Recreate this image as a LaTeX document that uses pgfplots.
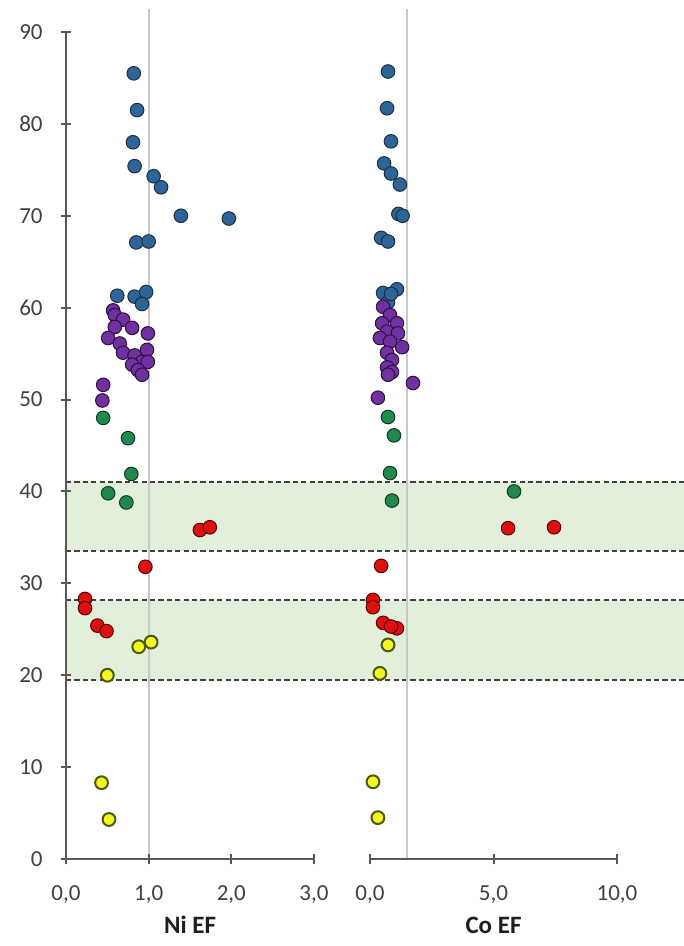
\documentclass[border=0pt]{standalone}
\usepackage{fontspec}
\setmainfont{Carlito}
\usepackage{pgfplots}
\pgfplotsset{compat=1.18}
\definecolor{axisgray}{HTML}{595959}
\definecolor{ticktext}{HTML}{404040}
\definecolor{labeltext}{HTML}{1F1F1F}
\definecolor{bandgreen}{HTML}{E2EFDA}
\definecolor{bandline}{HTML}{404040}
\definecolor{vgray}{HTML}{C8C8C8}
\definecolor{cblue}{HTML}{2E6598}
\definecolor{eblue}{HTML}{1B2F45}
\definecolor{cpurple}{HTML}{7030A0}
\definecolor{epurple}{HTML}{2E1040}
\definecolor{cgreen}{HTML}{1F8A4C}
\definecolor{egreen}{HTML}{0E3B20}
\definecolor{cred}{HTML}{DD1010}
\definecolor{ered}{HTML}{5A0000}
\definecolor{cyellow}{HTML}{F5F520}
\definecolor{eyellow}{HTML}{4A5A10}

\pgfplotstableread{
x y
0.82 85.5
0.86 81.5
0.81 78.0
0.83 75.4
1.06 74.3
1.15 73.1
1.39 70.0
1.97 69.7
0.85 67.1
1.00 67.2
0.62 61.3
0.83 61.2
0.97 61.7
0.92 60.4
}\niblue
\pgfplotstableread{
x y
0.57 59.7
0.59 59.2
0.69 58.7
0.59 57.9
0.80 57.8
0.99 57.2
0.51 56.7
0.65 56.1
0.69 55.1
0.83 54.8
0.98 55.4
0.92 54.1
0.99 54.1
0.80 53.8
0.87 53.2
0.92 52.7
0.45 51.6
0.44 49.9
}\nipurple
\pgfplotstableread{
x y
0.45 48.0
0.75 45.8
0.79 41.9
0.51 39.8
0.73 38.8
}\nigreen
\pgfplotstableread{
x y
1.62 35.8
1.74 36.1
0.96 31.8
0.23 28.3
0.23 27.3
0.38 25.4
0.49 24.8
}\nired
\pgfplotstableread{
x y
0.88 23.1
1.03 23.6
0.50 20.0
0.43 8.3
0.52 4.3
}\niyellow
\pgfplotstableread{
x y
0.73 85.7
0.69 81.7
0.85 78.1
0.57 75.7
0.85 74.6
1.21 73.4
1.15 70.2
1.32 70.0
0.45 67.6
0.73 67.2
0.53 61.6
1.09 62.0
0.73 60.6
0.85 61.5
}\coblue
\pgfplotstableread{
x y
0.53 60.1
0.81 59.2
0.49 58.3
1.09 58.3
0.69 57.4
1.13 57.2
0.40 56.7
0.81 56.3
1.30 55.7
0.69 55.1
0.89 54.3
0.69 53.5
0.89 53.0
0.73 52.7
1.74 51.8
0.32 50.2
}\copurple
\pgfplotstableread{
x y
0.73 48.1
0.97 46.1
0.81 42.0
0.89 39.0
5.83 40.0
}\cogreen
\pgfplotstableread{
x y
5.59 36.0
7.45 36.1
0.45 31.9
0.12 28.2
0.12 27.4
0.53 25.7
1.09 25.1
0.85 25.3
}\cored
\pgfplotstableread{
x y
0.73 23.3
0.40 20.2
0.12 8.4
0.32 4.5
}\coyellow

\pgfplotsset{
  myaxis/.style={
    scale only axis, height=413.5pt, ymin=0, ymax=90,
    axis x line=bottom,
    axis line style={-, draw=axisgray, line width=1.3pt},
    tick style={draw=axisgray, line width=1pt},
    tick align=center, major tick length=5pt,
    clip=false, axis on top,
    /pgf/number format/assume math mode=true,
    ticklabel style={font=\fontsize{11.5}{13}\selectfont, text=ticktext, inner sep=0pt},
    x tick label style={anchor=center, yshift=-15.5pt,
      /pgf/number format/.cd, fixed, fixed zerofill, precision=1, use comma},
    xlabel style={font=\fontsize{12.5}{14}\selectfont\bfseries, text=labeltext,
      anchor=center, at={(axis description cs:0.5,0)}, yshift=-33pt},
  },
  pts/.style 2 args={only marks, mark=*, mark size=3.4pt,
      mark options={fill=#1, draw=#2, line width=0.5pt}},
}
\tikzset{
  band/.style={fill=bandgreen, draw=none},
  bline/.style={draw=bandline, line width=1.1pt, dash pattern=on 2.6pt off 1.6pt},
  vline/.style={draw=vgray, line width=1pt},
}

\begin{document}
\begin{tikzpicture}
\begin{axis}[myaxis, at={(33pt,43.5pt)}, anchor=south west,
  width=124pt, xmin=0, xmax=3, xtick={0,1,2,3},
  axis y line=left, axis line style={-}, y axis line style={-},
  ytick={0,10,...,90},
  y tick label style={anchor=east, xshift=-9pt},
  xlabel={Ni EF}]
  \fill[band] (axis cs:0,33.5) rectangle (axis cs:7.5,41);
  \fill[band] (axis cs:0,19.5) rectangle (axis cs:7.5,28.2);
  \draw[bline] (axis cs:0,41) -- (axis cs:7.5,41);
  \draw[bline] (axis cs:0,33.5) -- (axis cs:7.5,33.5);
  \draw[bline] (axis cs:0,28.2) -- (axis cs:7.5,28.2);
  \draw[bline] (axis cs:0,19.5) -- (axis cs:7.5,19.5);
  \draw[vline] (axis cs:1,0) -- (axis cs:1,92.5);
  \addplot[pts={cblue}{eblue}] table {\niblue};
  \addplot[pts={cpurple}{epurple}] table {\nipurple};
  \addplot[pts={cgreen}{egreen}] table {\nigreen};
  \addplot[pts={cred}{ered}] table {\nired};
  \addplot[only marks, mark=*, mark size=3.2pt,
    mark options={fill=cyellow, draw=eyellow, line width=1pt}] table {\niyellow};
\end{axis}
\begin{axis}[myaxis, at={(185pt,43.5pt)}, anchor=south west,
  width=123.5pt, xmin=0, xmax=10, xtick={0,5,10},
  axis y line=none, ytick=\empty,
  xlabel={Co EF}]
  \draw[vline] (axis cs:1.5,0) -- (axis cs:1.5,92.5);
  \addplot[pts={cblue}{eblue}] table {\coblue};
  \addplot[pts={cpurple}{epurple}] table {\copurple};
  \addplot[pts={cgreen}{egreen}] table {\cogreen};
  \addplot[pts={cred}{ered}] table {\cored};
  \addplot[only marks, mark=*, mark size=3.2pt,
    mark options={fill=cyellow, draw=eyellow, line width=1pt}] table {\coyellow};
\end{axis}
\pgfresetboundingbox
\useasboundingbox (0pt,0pt) rectangle (342pt,473pt);
\end{tikzpicture}
\end{document}
